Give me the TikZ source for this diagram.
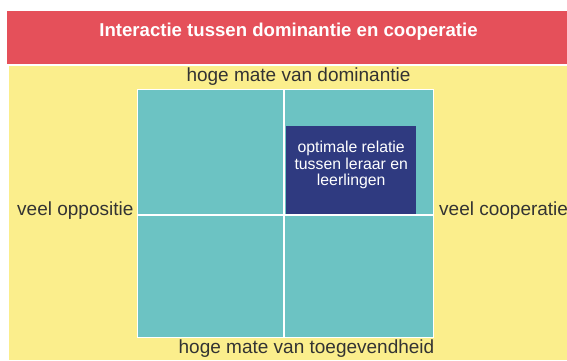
\documentclass[tikz,border=0pt]{standalone}
\usepackage{fontspec}
\setmainfont{Liberation Sans}
\definecolor{bandred}{HTML}{E5505A}
\definecolor{bgyellow}{HTML}{FBEE8C}
\definecolor{quadteal}{HTML}{6CC3C3}
\definecolor{boxblue}{HTML}{2F3A80}
\definecolor{txtgray}{HTML}{333333}
\begin{document}
\begin{tikzpicture}[x=1pt,y=-1pt,
  quad/.style={fill=quadteal,draw=none},
  lbl/.style={text=txtgray,font=\fontsize{19}{22}\selectfont,inner sep=0pt},
  optbox/.style={fill=boxblue,draw=none},
  opttext/.style={text=white,align=center,inner sep=0pt,font=\fontsize{15.8}{16.5}\selectfont}]
\useasboundingbox (0,0) rectangle (567,360);
\fill[white] (0,0) rectangle (567,360);
\fill[bandred] (7,11) rectangle (567,64);
\fill[bgyellow] (9,66) rectangle (567,360);
\node[text=white,font=\bfseries\fontsize{18.6}{21}\selectfont,inner sep=0pt] (title) at (288.5,32) {Interactie tussen dominantie en cooperatie};
% quadrants
\fill[white] (137,89) rectangle (434,338);
\node[quad,minimum width=145pt,minimum height=124pt,inner sep=0pt,anchor=north west] (tl) at (138,90) {};
\node[quad,minimum width=148pt,minimum height=124pt,inner sep=0pt,anchor=north west] (tr) at (285,90) {};
\node[quad,minimum width=145pt,minimum height=121pt,inner sep=0pt,anchor=north west] (bl) at (138,216) {};
\node[quad,minimum width=148pt,minimum height=121pt,inner sep=0pt,anchor=north west] (br) at (285,216) {};
\node[optbox,minimum width=130pt,minimum height=88pt,inner sep=0pt,anchor=north west] (opt) at (286,126) {};
\node[opttext] (opttxt) at ([yshift=5pt]opt.center) {optimale relatie\\tussen leraar en\\leerlingen};
% labels
\node[lbl] (top) at (298.5,77) {hoge mate van dominantie};
\node[lbl] (bottom) at (306.5,349) {hoge mate van toegevendheid};
\node[lbl,anchor=west] (left) at (17,211) {veel oppositie};
\node[lbl,anchor=west] (right) at (439,211) {veel cooperatie};
\end{tikzpicture}
\end{document}
